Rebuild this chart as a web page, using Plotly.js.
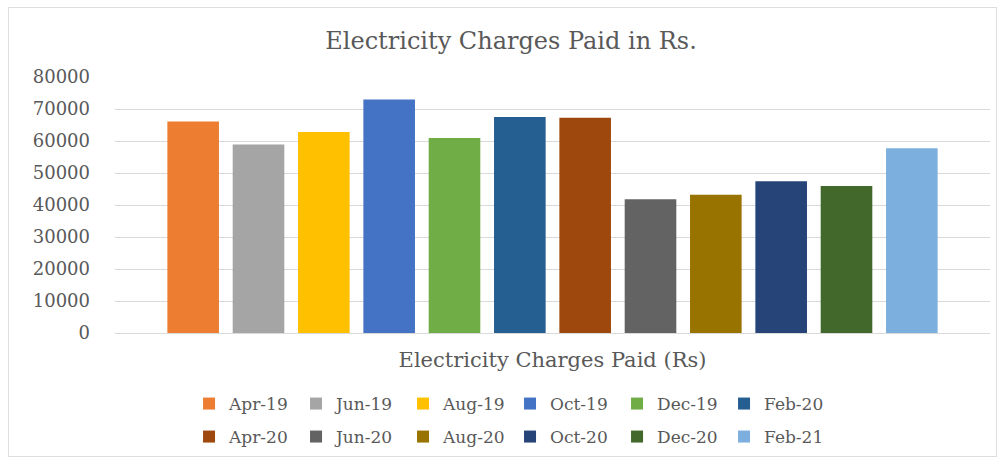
<!DOCTYPE html>
<html>
<head>
<meta charset="utf-8">
<script src="https://cdn.plot.ly/plotly-3.0.1.min.js"></script>
<style>
  html, body { margin: 0; padding: 0; background: #ffffff; }
  #wrap { position: relative; width: 1004px; height: 461px; }
  #frame { position: absolute; left: 8px; top: 7px; width: 987px; height: 448px; border: 1px solid #dedede; pointer-events: none; }
  #chart { position: absolute; left: 0; top: 0; width: 1004px; height: 461px; }
</style>
</head>
<body>
<div id="wrap">
  <div id="chart"></div>
  <div id="frame"></div>
</div>
<script>
// Data
const categories = ["Electricity Charges Paid (Rs)"];
const months = ["Apr-19", "Jun-19", "Aug-19", "Oct-19", "Dec-19", "Feb-20",
                "Apr-20", "Jun-20", "Aug-20", "Oct-20", "Dec-20", "Feb-21"];
const charges = [66100, 58900, 62800, 73000, 60900, 67500,
                 67300, 41800, 43200, 47400, 45900, 57700];
const colors = ["#ED7D31", "#A5A5A5", "#FFC000", "#4472C4", "#70AD47", "#255E91",
                "#9E480E", "#636363", "#997300", "#264478", "#43682B", "#7CAFDD"];

const textColor = "#595959";
const fontFamily = "'DejaVu Serif', 'Liberation Serif', serif";

const traces = months.map((m, i) => ({
  type: "bar",
  name: m,
  x: categories,
  y: [charges[i]],
  marker: { color: colors[i], line: { width: 0 } },
  legend: i < 6 ? "legend" : "legend2",
  hoverinfo: "name+y"
}));

const legendBase = {
  orientation: "h",
  xref: "container",
  yref: "container",
  x: 0.508,
  xanchor: "center",
  yanchor: "middle",
  entrywidth: 62,
  entrywidthmode: "pixels",
  itemwidth: 30,
  font: { family: fontFamily, size: 17, color: textColor },
  bgcolor: "rgba(0,0,0,0)",
  traceorder: "normal"
};

const layout = {
  width: 1004,
  height: 461,
  paper_bgcolor: "#ffffff",
  plot_bgcolor: "#ffffff",
  margin: { l: 115, r: 14, t: 77, b: 128 },
  title: {
    text: "Electricity Charges Paid in Rs.",
    x: 0.509,
    xref: "container",
    xanchor: "center",
    y: 0.911,
    yref: "container",
    yanchor: "middle",
    font: { family: fontFamily, size: 24, color: textColor }
  },
  barmode: "group",
  bargap: 0.104,
  bargroupgap: 0.21,
  xaxis: {
    type: "category",
    showgrid: false,
    zeroline: false,
    showline: false,
    ticks: "",
    ticklabelstandoff: 12,
    tickfont: { family: fontFamily, size: 21, color: textColor }
  },
  yaxis: {
    range: [0, 80000],
    dtick: 10000,
    tick0: 0,
    showgrid: true,
    gridcolor: "#d9d9d9",
    gridwidth: 1,
    zeroline: true,
    zerolinecolor: "#d9d9d9",
    zerolinewidth: 1,
    showline: false,
    ticks: "",
    ticklabelstandoff: 24,
    tickformat: "d",
    tickfont: { family: fontFamily, size: 18, color: textColor }
  },
  legend: Object.assign({}, legendBase, { y: 1 - 404 / 461 }),
  legend2: Object.assign({}, legendBase, { y: 1 - 437 / 461 }),
  showlegend: true
};

Plotly.newPlot("chart", traces, layout, { displayModeBar: false, staticPlot: false });
</script>
</body>
</html>
